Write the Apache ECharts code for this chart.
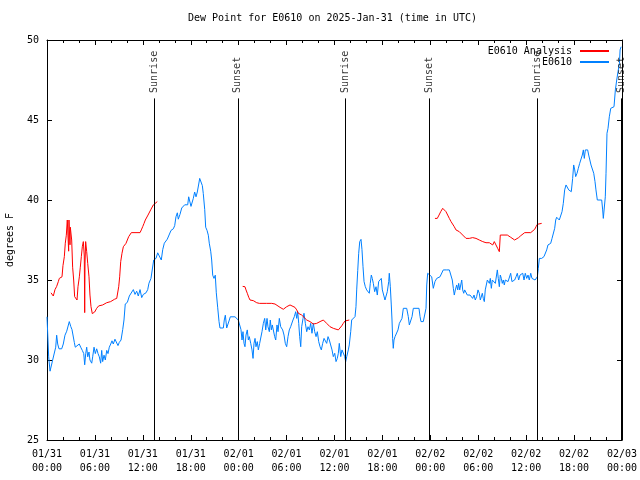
<!DOCTYPE html>
<html><head><meta charset="utf-8">
<script src="https://cdn.jsdelivr.net/npm/echarts@6/dist/echarts.min.js"></script>
<style>html,body{margin:0;padding:0;background:#fff}#c{width:640px;height:480px}</style>
</head><body><div id="c"></div>
<script>
const titleText = 'Dew Point for E0610 on 2025-Jan-31 (time in UTC)';
const yAxisName = 'degrees F';
const seriesNames = ['E0610 Analysis', 'E0610'];
const xTickLabels = ['01/31\n00:00','01/31\n06:00','01/31\n12:00','01/31\n18:00','02/01\n00:00','02/01\n06:00','02/01\n12:00','02/01\n18:00','02/02\n00:00','02/02\n06:00','02/02\n12:00','02/02\n18:00','02/03\n00:00'];
// hours since 01/31 00:00 UTC
const sunHours = [13.44, 23.9, 37.35, 47.87, 61.39, 71.9];
const sunLabels = ['Sunrise','Sunset','Sunrise','Sunset','Sunrise','Sunset'];

// [hours since 01/31 00:00, degrees F]
const analysisPoints = [
[0.50,34.2],[0.79,34.0],[1.00,34.4],[1.21,34.6],[1.42,34.9],[1.54,35.1],[1.75,35.0],[1.88,35.2],[2.00,35.9],[2.17,36.46],[2.29,37.3],[2.42,37.8],[2.54,38.75],[2.63,38.75],[2.71,36.8],[2.75,38.75],[2.84,38.75],[2.88,37.2],[2.92,38.3],[3.09,37.5],[3.21,35.8],[3.34,35.0],[3.46,33.96],[3.63,33.85],[3.76,33.75],[3.88,34.58],[4.05,35.2],[4.17,35.8],[4.30,36.46],[4.42,37.08],[4.55,37.4],[4.67,36.5],[4.72,32.96],[4.76,36.0],[4.84,37.4],[4.97,36.77],[5.10,36.04],[5.26,35.2],[5.38,34.06],[5.51,33.33],[5.67,32.9],[5.80,32.8],[5.97,33.0],[6.22,33.23],[6.47,33.38],[6.72,33.33],[6.97,33.44],[7.22,33.5],[7.47,33.58],[7.72,33.54],[7.97,33.65],[8.22,33.75],[8.47,33.8],[8.73,33.85],[8.85,33.96],[8.98,34.58],[9.10,35.2],[9.23,36.15],[9.39,36.67],[9.56,37.08],[9.73,37.19],[9.89,37.29],[10.06,37.5],[10.23,37.71],[10.39,37.8],[10.56,37.96],[11.65,37.96],[11.81,38.13],[11.98,38.33],[12.15,38.54],[12.31,38.75],[12.48,38.85],[12.65,39.06],[12.81,39.17],[12.98,39.38],[13.15,39.48],[13.31,39.69],[13.52,39.79],[13.81,39.9],
[19.0,null],
[24.50,34.6],[24.79,34.58],[24.92,34.38],[25.08,34.17],[25.26,33.92],[25.42,33.75],[25.63,33.79],[25.83,33.71],[26.05,33.65],[26.26,33.58],[26.59,33.54],[27.51,33.54],[27.71,33.58],[28.14,33.54],[28.55,33.5],[28.76,33.44],[29.18,33.29],[29.59,33.17],[30.01,33.33],[30.43,33.44],[30.64,33.44],[31.05,33.29],[31.27,33.13],[31.47,32.92],[31.89,32.81],[32.10,32.71],[32.52,32.5],[32.93,32.4],[33.35,32.25],[33.77,32.29],[34.19,32.4],[34.60,32.5],[35.02,32.29],[35.44,32.08],[35.85,31.98],[36.48,31.88],[36.90,32.13],[37.10,32.29],[37.32,32.44],[37.53,32.5],[37.85,32.5],
[43.0,null],
[48.58,38.85],[48.87,38.85],[49.09,39.06],[49.30,39.27],[49.55,39.48],[49.75,39.48],[49.96,39.27],[50.17,39.06],[50.38,38.85],[50.59,38.65],[50.80,38.54],[51.00,38.33],[51.21,38.13],[51.63,38.02],[51.84,37.92],[52.05,37.81],[52.25,37.71],[52.47,37.6],[52.88,37.6],[53.30,37.65],[53.72,37.6],[53.93,37.54],[54.13,37.5],[54.35,37.46],[54.56,37.4],[54.97,37.33],[55.18,37.29],[55.39,37.33],[55.60,37.29],[55.81,37.19],[56.01,37.4],[56.22,37.19],[56.43,36.98],[56.64,36.77],[56.76,37.81],[57.64,37.81],[57.81,37.75],[58.06,37.67],[58.31,37.56],[58.56,37.5],[58.81,37.5],[59.06,37.65],[59.32,37.77],[59.57,37.85],[59.82,37.96],[60.57,37.96],[60.82,38.02],[61.07,38.17],[61.23,38.33],[61.40,38.48],[61.65,38.54],[61.94,38.54]
];

const stationPoints = [
[0.00,32.7],[0.21,30.2],[0.38,29.3],[0.59,29.2],[0.71,30.0],[0.96,30.1],[1.09,30.8],[1.21,31.55],[1.34,31.0],[1.50,30.7],[1.84,30.7],[2.04,31.0],[2.25,31.55],[2.47,31.8],[2.67,31.9],[2.79,32.4],[2.97,32.1],[3.13,31.9],[3.29,31.8],[3.42,31.1],[3.54,30.8],[3.79,30.8],[4.04,31.0],[4.22,30.8],[4.42,30.6],[4.60,30.4],[4.72,29.7],[4.85,30.4],[4.97,30.8],[5.10,30.2],[5.26,30.5],[5.38,30.0],[5.60,29.8],[5.72,30.2],[5.89,30.8],[6.05,30.4],[6.22,30.7],[6.39,30.4],[6.55,30.2],[6.72,29.8],[6.85,30.6],[6.97,29.9],[7.14,30.3],[7.30,30.0],[7.48,30.6],[7.64,30.4],[7.80,30.8],[7.98,31.0],[8.14,31.2],[8.30,31.0],[8.51,31.3],[8.73,31.4],[8.89,30.9],[9.05,31.1],[9.27,31.25],[9.48,31.9],[9.64,32.5],[9.80,33.5],[10.06,33.6],[10.31,34.0],[10.56,34.1],[10.81,34.4],[11.02,34.1],[11.23,34.3],[11.43,34.0],[11.65,34.4],[11.86,33.9],[12.06,34.1],[12.40,34.2],[12.61,34.4],[12.77,34.8],[13.02,35.1],[13.24,35.2],[13.36,36.25],[13.65,36.35],[13.86,36.7],[14.06,36.5],[14.31,36.25],[14.49,36.9],[14.69,37.3],[14.86,37.4],[15.06,37.55],[15.31,37.6],[15.53,38.1],[15.82,38.2],[15.99,38.4],[16.15,38.95],[16.32,39.2],[16.44,38.8],[16.65,39.1],[16.87,39.5],[17.07,39.5],[17.24,39.7],[17.41,39.6],[17.62,39.7],[17.74,40.2],[17.91,40.3],[18.03,39.6],[18.19,39.6],[18.32,40.1],[18.49,40.5],[18.66,40.2],[18.82,40.5],[19.00,41.0],[19.12,41.35],[19.28,41.35],[19.45,40.9],[19.57,40.4],[19.75,39.4],[19.87,38.3],[20.04,38.1],[20.20,37.8],[20.32,37.3],[20.50,36.8],[20.62,36.25],[20.75,35.3],[20.91,35.1],[21.07,35.3],[21.20,34.2],[21.37,33.3],[21.54,32.4],[21.66,32.0],[22.08,32.0],[22.20,32.5],[22.33,32.8],[22.50,32.0],[22.70,32.0],[22.83,32.5],[22.95,32.7],[23.17,32.75],[23.54,32.7],[23.75,32.6],[23.95,32.5],
[24.17,32.4],[24.29,31.9],[24.42,31.25],[24.54,31.77],[24.67,31.04],[24.79,30.83],[24.92,31.56],[25.08,31.88],[25.21,31.25],[25.33,31.46],[25.51,31.04],[25.67,30.63],[25.80,30.1],[25.92,31.04],[26.05,31.35],[26.17,30.83],[26.33,31.15],[26.46,30.63],[26.63,31.04],[26.76,31.15],[26.92,31.77],[27.09,32.29],[27.26,32.6],[27.39,31.88],[27.55,32.6],[27.67,32.08],[27.84,31.77],[27.96,32.5],[28.09,31.88],[28.21,32.19],[28.34,32.08],[28.51,31.46],[28.64,31.25],[28.80,32.19],[28.93,31.77],[29.09,32.6],[29.26,32.08],[29.39,32.08],[29.51,31.88],[29.68,31.56],[29.84,31.04],[30.01,30.83],[30.18,31.46],[30.34,31.88],[30.51,32.08],[30.64,31.98],[30.80,32.5],[30.97,32.71],[31.14,33.02],[31.27,32.6],[31.39,33.02],[31.52,32.29],[31.64,31.46],[31.77,30.83],[31.89,32.08],[32.06,32.6],[32.18,32.92],[32.35,32.29],[32.52,31.77],[32.68,32.08],[32.85,31.88],[33.02,32.29],[33.18,31.67],[33.35,32.29],[33.52,31.77],[33.69,31.46],[33.85,31.77],[34.02,31.15],[34.19,30.83],[34.35,30.63],[34.52,31.04],[34.69,31.35],[34.85,31.25],[35.02,31.04],[35.19,31.46],[35.35,31.25],[35.52,30.94],[35.69,30.63],[35.85,30.21],[36.03,30.42],[36.19,29.9],[36.35,30.1],[36.48,30.42],[36.60,31.04],[36.78,30.21],[36.94,30.63],[37.10,30.73],[37.28,30.21],[37.40,29.9],[37.53,30.21],[37.73,30.63],[37.85,30.94],
[38.03,31.77],[38.15,32.5],[38.36,32.5],[38.57,32.71],[38.69,33.33],[38.78,34.38],[38.91,35.6],[39.03,36.67],[39.16,37.4],[39.32,37.54],[39.44,36.9],[39.57,35.83],[39.70,34.9],[39.86,34.58],[40.03,34.38],[40.20,34.48],[40.36,34.17],[40.48,34.79],[40.61,35.31],[40.73,35.1],[40.86,34.79],[41.03,34.27],[41.20,34.58],[41.36,34.06],[41.53,34.9],[41.70,35.0],[41.86,35.1],[41.99,34.38],[42.16,34.27],[42.32,33.75],[42.49,33.65],[42.61,34.27],[42.79,34.9],[42.86,35.42],[42.99,34.58],[43.11,33.44],[43.20,32.5],[43.28,31.35],[43.36,30.73],[43.45,31.25],[43.58,31.46],[43.79,31.56],[43.95,31.88],[44.12,32.29],[44.29,32.4],[44.45,32.6],[44.62,33.23],[45.04,33.23],[45.24,32.71],[45.37,32.19],[45.58,32.19],[45.71,32.71],[45.87,33.23],[46.58,33.23],[46.71,32.71],[46.83,32.4],[47.12,32.4],[47.33,32.5],[47.46,33.23],[47.55,34.69],[47.67,35.42],[47.87,35.42],
[48.17,35.2],[48.37,34.48],[48.58,34.9],[48.80,35.1],[49.00,35.04],[49.21,35.2],[49.42,35.3],[49.62,35.63],[50.05,35.63],[50.38,35.63],[50.55,35.52],[50.75,35.0],[50.88,34.48],[51.00,34.06],[51.13,34.38],[51.30,34.69],[51.43,34.38],[51.55,34.79],[51.68,34.38],[51.80,34.48],[51.93,35.0],[52.05,34.38],[52.18,34.17],[52.30,34.38],[52.47,34.27],[52.63,34.06],[52.80,33.96],[52.97,34.06],[53.13,34.0],[53.30,33.85],[53.47,34.06],[53.63,33.75],[53.80,33.96],[53.97,34.38],[54.13,34.17],[54.26,33.75],[54.38,33.65],[54.51,34.17],[54.63,33.85],[54.76,33.65],[54.88,34.38],[55.01,34.38],[55.14,35.0],[55.26,34.9],[55.39,34.79],[55.51,35.1],[55.64,34.48],[55.76,35.0],[55.89,35.1],[56.01,35.0],[56.14,34.79],[56.26,34.9],[56.39,35.63],[56.51,35.1],[56.64,34.58],[56.76,35.31],[56.89,35.1],[57.01,34.79],[57.14,35.0],[57.26,34.69],[57.39,35.0],[57.56,35.1],[57.73,34.9],[57.89,35.0],[58.06,35.42],[58.22,34.9],[58.39,35.0],[58.56,35.0],[58.73,35.2],[58.89,35.42],[59.06,35.0],[59.23,35.31],[59.39,35.2],[59.57,35.42],[59.73,35.0],[59.89,35.42],[60.07,35.1],[60.23,35.31],[60.39,35.0],[60.57,35.42],[60.73,35.1],[60.89,35.0],[61.11,35.0],[61.27,34.9],[61.40,35.2],[61.52,35.73],[61.65,36.35],[61.94,36.35],[62.23,36.46],[62.40,36.56],[62.57,36.88],[62.73,37.19],[62.90,37.1],[63.07,37.29],[63.24,37.6],[63.40,37.6],[63.57,38.23],[63.70,38.75],[63.82,38.92],[63.99,38.96],[64.15,38.75],[64.32,38.85],[64.49,39.27],[64.65,39.79],[64.82,40.63],[64.99,40.94],[65.15,40.83],[65.33,40.63],[65.49,40.52],[65.65,40.52],[65.82,41.35],[65.95,42.19],[66.08,41.88],[66.20,41.46],[66.37,41.67],[66.53,41.98],[66.70,42.29],[66.87,42.4],[67.03,42.81],[67.16,43.13],[67.28,42.6],[67.41,43.13],[67.58,43.02],[67.70,43.13],[67.83,42.81],[67.99,42.71],[68.12,42.19],[68.28,42.08],[68.46,41.67],[68.62,41.15],[68.74,40.63],[68.91,40.0],[69.46,40.0],[69.58,39.38],[69.66,38.85],[69.83,38.85],[69.91,40.2],[70.00,41.67],[70.12,44.17],[70.25,44.48],[70.41,45.2],[70.59,45.73],[70.84,45.83],[71.00,45.83],[71.17,46.88],[71.34,47.5],[71.50,48.02],[71.68,48.54],[71.76,49.38],[71.89,49.58]
];

const FONT = 'DejaVu Sans Mono';
const sunLineBottom = 25;
const sunLineTop = 46.35;
const sunLabelAnchor = 46.69;

const chart = echarts.init(document.getElementById('c'), null, {renderer: 'canvas'});
const black = '#000';
function xAxisDef(pos, showLabels) {
  return {
    type: 'value', min: 0, max: 72, interval: 6, position: pos,
    axisLine: {show: true, onZero: false, lineStyle: {color: black, width: 1}},
    axisTick: {show: true, inside: true, length: 5, lineStyle: {color: black}},
    minorTick: {show: true, splitNumber: 3, length: 3, lineStyle: {color: black}},
    splitLine: {show: false}, minorSplitLine: {show: false},
    axisLabel: {show: showLabels, formatter: v => xTickLabels[Math.round(v / 6)] || '',
      fontFamily: FONT, fontSize: 10, color: black, lineHeight: 14, margin: 7}
  };
}
function yAxisDef(pos, showLabels) {
  const ax = {
    type: 'value', min: 25, max: 50, interval: 5, position: pos,
    axisLine: {show: true, onZero: false, lineStyle: {color: black, width: 1}},
    axisTick: {show: true, inside: true, length: 5, lineStyle: {color: black}},
    splitLine: {show: false},
    axisLabel: {show: showLabels, fontFamily: FONT, fontSize: 10, color: black, margin: 8}
  };
  if (showLabels) {
    ax.name = yAxisName; ax.nameLocation = 'middle'; ax.nameGap = 32; ax.nameRotate = 90;
    ax.nameTextStyle = {fontFamily: FONT, fontSize: 10, color: black};
  }
  return ax;
}

chart.setOption({
  animation: false,
  backgroundColor: '#fff',
  title: {text: titleText, left: 183, top: 8,
    textStyle: {fontFamily: FONT, fontSize: 10, fontWeight: 'normal', color: black}},
  legend: {data: seriesNames, orient: 'vertical', right: 25, top: 41, align: 'right',
    itemWidth: 29, itemHeight: 12, itemGap: 1, selectedMode: false,
    itemStyle: {opacity: 0, borderWidth: 0},
    textStyle: {fontFamily: FONT, fontSize: 10, color: black, padding: [0, 3, 0, 0]}},
  grid: {left: 47, right: 18, top: 40, bottom: 40, containLabel: false, outerBoundsMode: 'none', show: false},
  xAxis: [xAxisDef('bottom', true), xAxisDef('top', false)],
  yAxis: [yAxisDef('left', true), yAxisDef('right', false)],
  series: [
    {name: seriesNames[0], type: 'line', data: analysisPoints, symbol: 'none', connectNulls: false,
      lineStyle: {color: '#ff0000', width: 1}, itemStyle: {color: '#ff0000'}, z: 3},
    {name: seriesNames[1], type: 'line', data: stationPoints, symbol: 'none',
      lineStyle: {color: '#0080ff', width: 1}, itemStyle: {color: '#0080ff'}, z: 2,
      markLine: {silent: true, symbol: ['none', 'none'], label: {show: false},
        lineStyle: {color: black, width: 1, type: 'solid'},
        emphasis: {disabled: true},
        data: sunHours.map(h => [{coord: [h, sunLineBottom]}, {coord: [h, sunLineTop]}])}},
    {name: 'sun', type: 'scatter', data: sunHours.map(h => [h, sunLabelAnchor]), symbolSize: 1,
      itemStyle: {color: 'rgba(0,0,0,0)'}, silent: true, z: 4,
      label: {show: true, position: 'inside', rotate: 90, align: 'left', verticalAlign: 'middle',
        formatter: p => sunLabels[p.dataIndex], fontFamily: FONT, fontSize: 10, color: black}}
  ]
});
</script></body></html>
